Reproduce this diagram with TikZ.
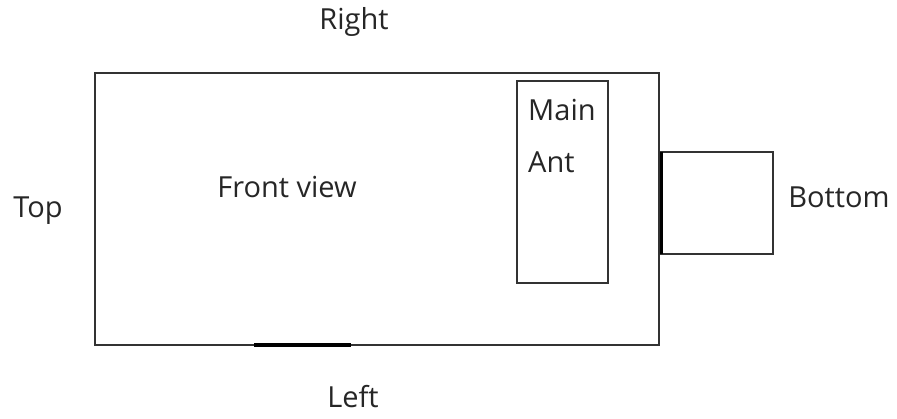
\documentclass[tikz,border=0pt]{standalone}
\usepackage{fontspec}
\setmainfont{Open Sans}
\begin{document}
\begin{tikzpicture}[x=1pt,y=-1pt,
  box/.style={draw=black!80,line width=1.8pt},
  thick edge/.style={draw=black,line width=3.5pt},
  lbl/.style={font=\fontsize{29}{34}\selectfont,text=black!85,inner sep=0pt}]
\useasboundingbox (0,0) rectangle (897,418);
\path[box] (95,73) rectangle (659,345);
\coordinate (fl) at (254,345);
\coordinate (fr) at (351,345);
\draw[thick edge] (fl) -- (fr);
\path[box] (517,81) rectangle (608,283);
\path[box] (661,152) rectangle (773,254);
\coordinate (bt) at (661,152);
\coordinate (bb) at (661,254);
\draw[line width=3pt] (bt) -- (bb);
\node[lbl] (right) at (354,22) {Right};
\node[lbl] (top) at (38,211) {Top};
\node[lbl] (front) at (287,187) {Front view};
\node[lbl,anchor=west] (main) at (528,110) {Main};
\node[lbl,anchor=west] (ant) at (528,162) {Ant};
\node[lbl] (bottom) at (839,197) {Bottom};
\node[lbl] (left) at (353,397) {Left};
\end{tikzpicture}
\end{document}
